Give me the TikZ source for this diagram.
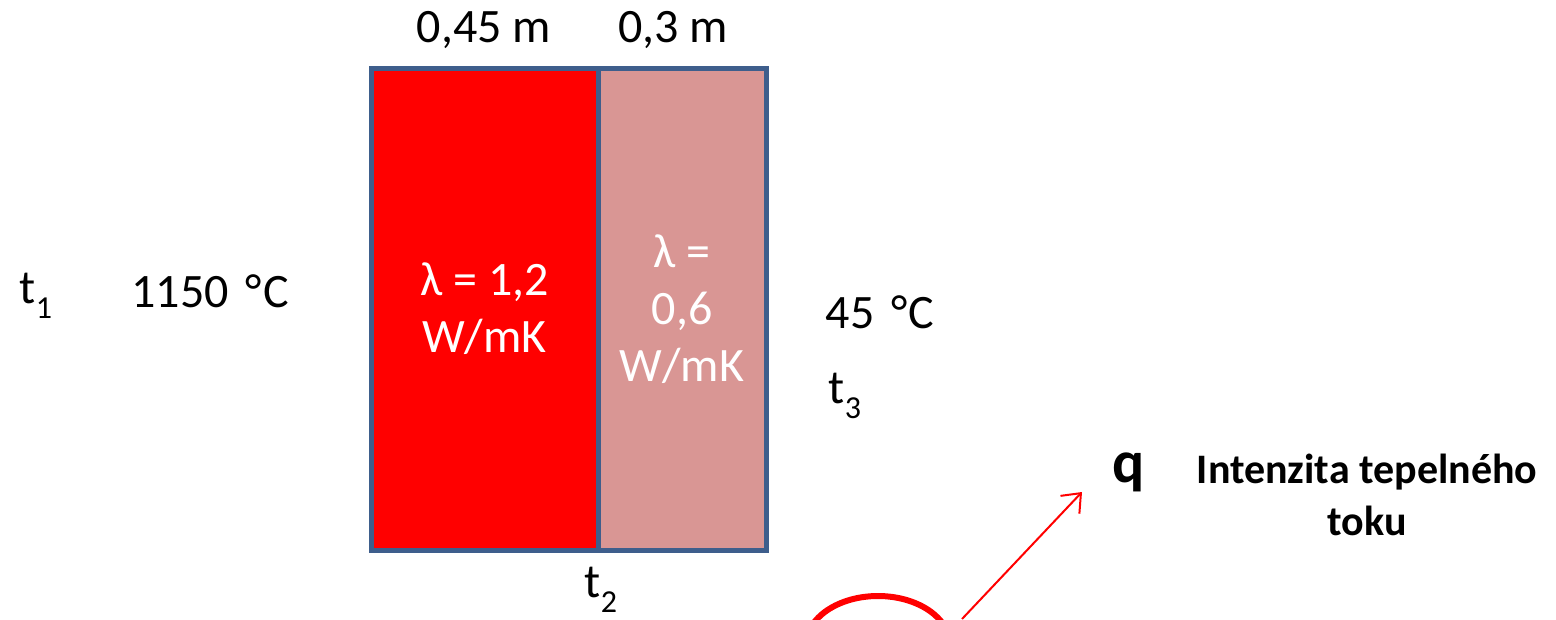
\documentclass[tikz,border=0pt]{standalone}
\usepackage{fontspec}
\setmainfont{Carlito}
\usetikzlibrary{arrows.meta}
\definecolor{boxblue}{HTML}{3E5E8C}
\definecolor{rosefill}{HTML}{D99694}
\begin{document}
\begin{tikzpicture}[x=1pt,y=-1pt,
  lbl/.style={inner sep=0pt,font=\fontsize{48}{57}\selectfont,text=black},
  bld/.style={inner sep=0pt,font=\fontsize{42}{52}\selectfont\bfseries,text=black,align=center},
  layer/.style={draw=boxblue,line width=5pt,inner sep=0pt,text=white,align=center,font=\fontsize{48}{57}\selectfont}]
\useasboundingbox (0,0) rectangle (1556,619);
\begin{scope}
\clip (0,0) rectangle (1556,619);
\coordinate (ec) at (878,645);
\draw[red,line width=6pt] (ec) ellipse [x radius=72pt,y radius=49pt];
\end{scope}
\node[layer,fill=red,minimum width=227pt,minimum height=482pt] (L) at (484.5,309) {λ = 1,2\\W/mK};
\node[layer,fill=rosefill,minimum width=168pt,minimum height=482pt] (R) at (682,309) {λ =\\0,6\\W/mK};
\node[lbl] (d1) at (484,30) {0,45 m};
\node[lbl] (d2) at (673,30) {0,3 m};
\node[lbl] (t1) at (36,296) {t\raisebox{-0.3em}{\fontsize{32}{32}\selectfont 1}};
\node[lbl] (T1) at (210,291) {1150\hspace{0.12em} °\hspace{0.03em}C};
\node[lbl] (T3) at (880,312) {45\hspace{0.12em} °\hspace{0.03em}C};
\node[lbl] (t3) at (845,396) {t\raisebox{-0.3em}{\fontsize{32}{32}\selectfont 3}};
\node[lbl] (t2) at (601,590) {t\raisebox{-0.3em}{\fontsize{32}{32}\selectfont 2}};
\node[bld,font=\fontsize{60}{60}\selectfont\bfseries] (q) at (1129,472) {q};
\node[bld] (it) at (1367,495) {Intenzita tepelného\\toku};
\coordinate (as) at (962,619);
\coordinate (ae) at (1082,492);
\draw[red,line width=2pt,-{Straight Barb[length=16pt,width=26pt,line width=2pt]}] (as) -- (ae);
\end{tikzpicture}
\end{document}
